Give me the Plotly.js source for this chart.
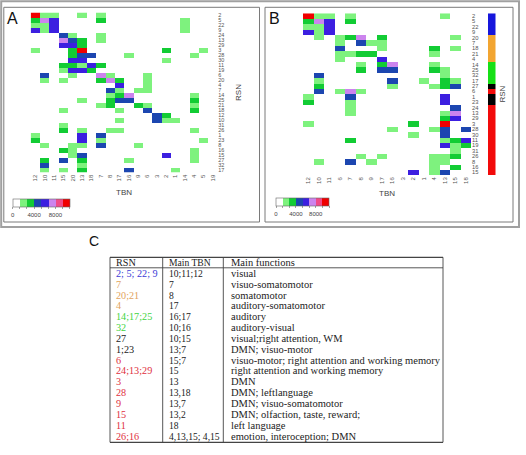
<!DOCTYPE html>
<html>
<head>
<meta charset="utf-8">
<script src="https://cdn.plot.ly/plotly-3.0.1.min.js"></script>
<style>
  html, body { margin: 0; padding: 0; background: #ffffff; }
  #chart { width: 526px; height: 455px; }
</style>
</head>
<body>
<div id="chart"></div>
<script>
// ---- Panel A: RSN x TBN co-occurrence counts ----
const tbnA = ['12','10','11','15','20','13','18','7','8','17','16','9','6','3','2','1','14','4','5','19'];
const rsnA = ['2','5','22','9','24','13','29','3','28','30','11','19','6','20','4','7','14','25','21','18','12','10','31','26','1','23','8','16','15','27','32','17'];
const countsA = [
  [10000,2000,2000,0,0,2000,0,2000,0,0,0,0,0,0,0,0,0,0,0,0],
  [3400,7300,6000,0,0,0,0,3400,0,0,0,0,0,0,0,0,2000,0,0,0],
  [2000,2000,6000,0,0,0,0,0,0,0,0,0,0,0,0,0,2000,0,0,0],
  [6000,2000,6000,0,0,0,0,0,0,0,0,0,0,0,0,0,2000,0,0,0],
  [0,0,0,4700,2000,0,0,2000,0,0,0,0,0,0,0,0,0,0,0,0],
  [0,0,0,7300,4700,3400,0,2000,0,0,0,0,0,0,0,0,0,0,0,0],
  [0,0,0,6000,6000,3400,0,0,0,0,0,0,0,0,0,0,0,0,0,0],
  [2000,0,0,0,3400,10000,0,0,0,0,0,0,0,0,3400,0,0,0,2000,0],
  [0,0,0,0,3400,4700,4700,0,0,0,2000,0,0,0,0,0,0,2000,0,0],
  [0,0,0,0,6000,6000,0,0,0,0,0,0,0,0,2000,0,0,0,0,0],
  [0,0,0,3400,3400,2000,6000,3400,0,0,0,0,0,0,0,0,0,0,0,0],
  [0,0,0,2000,6000,6000,3400,0,0,0,0,0,0,0,0,0,0,0,0,0],
  [0,4700,0,0,2000,0,0,7300,2000,0,0,0,2000,0,0,0,0,0,0,0],
  [0,2000,0,2000,0,0,0,3400,7300,3400,0,0,2000,0,0,0,0,0,0,0],
  [0,0,0,0,0,0,0,0,0,6000,0,0,2000,0,0,0,0,0,0,0],
  [0,0,0,0,0,0,0,0,4700,2000,0,2000,2000,0,0,0,0,0,0,0],
  [0,0,0,0,0,0,0,0,2000,3400,7300,0,0,0,0,0,0,2000,0,0],
  [0,0,0,0,0,2000,0,0,3400,4700,4700,0,0,0,0,0,0,3400,0,0],
  [0,0,0,0,0,0,0,2000,3400,0,0,3400,2000,0,0,0,0,2000,0,0],
  [0,0,0,2000,0,0,0,0,0,2000,0,0,4700,0,0,0,0,3400,0,0],
  [0,0,0,0,0,0,0,0,0,0,0,0,0,4700,3400,0,0,0,0,0],
  [0,0,0,0,0,0,0,0,0,2000,0,0,0,4700,2000,2000,0,0,0,0],
  [0,0,0,2000,0,0,0,0,0,0,0,0,0,0,0,0,0,0,0,0],
  [0,0,0,3400,0,2000,0,0,2000,2000,0,0,0,0,0,0,0,2000,0,0],
  [2000,0,0,0,0,6000,0,4700,0,0,0,0,0,0,0,0,0,0,0,0],
  [3400,0,0,0,0,6000,0,2000,0,0,0,0,0,0,0,0,0,0,2000,0],
  [0,2000,0,0,2000,2000,0,4700,0,0,0,2000,0,0,0,0,0,0,0,0],
  [0,0,0,3400,2000,0,0,0,0,0,0,0,0,0,0,0,0,2000,0,0],
  [0,0,0,0,2000,4700,0,0,0,0,0,0,0,0,6000,0,0,2000,0,0],
  [0,3400,0,4700,0,3400,0,0,0,0,2000,0,0,0,0,0,0,2000,0,0],
  [0,4700,0,0,0,2000,0,0,0,0,0,0,0,0,0,0,0,0,0,0],
  [0,2000,0,2000,0,3400,0,0,0,0,4700,0,0,0,0,2000,0,0,0,0]
];

// ---- Panel B: RSNs regrouped by function ----
const tbnB = ['12','10','11','6','7','8','9','17','16','3','2','1','4','13','15','18'];
const rsnB = ['2','5','22','9','20','7','18','21','4','14','25','32','17','27','6','1','23','24','13','29','3','28','30','11','19','31','26','8','16','15'];
const countsB = [
  [10000,2000,2000,0,2000,0,0,0,0,0,0,0,0,2000,0,0],
  [3400,7300,6000,0,3400,0,0,0,0,0,0,0,0,0,0,0],
  [2000,2000,6000,0,0,0,0,0,0,0,0,0,0,0,0,0],
  [6000,2000,6000,0,0,0,0,0,0,0,0,0,0,0,0,0],
  [0,2000,0,2000,3400,7300,0,3400,0,0,0,0,0,0,2000,0],
  [0,0,0,2000,0,4700,2000,2000,0,0,0,0,0,0,0,0],
  [0,0,0,4700,0,0,0,2000,0,0,0,0,3400,0,2000,0],
  [0,0,0,2000,2000,3400,3400,0,0,0,0,0,2000,0,0,0],
  [0,0,0,2000,0,0,0,6000,0,0,0,0,0,0,0,0],
  [0,0,0,0,0,2000,0,3400,7300,0,0,0,2000,0,0,0],
  [0,0,0,0,0,3400,0,4700,4700,0,0,0,3400,2000,0,0],
  [0,4700,0,0,0,0,0,0,0,0,0,0,0,2000,0,0],
  [0,2000,0,0,0,0,0,0,4700,0,0,2000,0,3400,2000,0],
  [0,3400,0,0,0,0,0,0,2000,0,0,0,2000,3400,4700,0],
  [0,4700,0,2000,7300,2000,0,0,0,0,0,0,0,0,0,0],
  [2000,0,0,0,4700,0,0,0,0,0,0,0,0,6000,0,0],
  [3400,0,0,0,2000,0,0,0,0,0,0,0,0,6000,0,0],
  [0,0,0,0,2000,0,0,0,0,0,0,0,0,0,4700,0],
  [0,0,0,0,2000,0,0,0,0,0,0,0,0,2000,7300,0],
  [0,0,0,0,0,0,0,0,0,0,0,0,0,3400,6000,0],
  [2000,0,0,0,0,0,0,0,0,0,3400,0,0,10000,0,0],
  [0,0,0,0,0,0,0,0,2000,0,0,0,2000,4700,0,4700],
  [0,0,0,0,0,0,0,0,0,0,2000,0,0,4700,0,0],
  [0,0,0,0,3400,0,0,0,0,0,0,0,0,2000,3400,6000],
  [0,0,0,0,0,0,0,0,0,0,0,0,0,6000,2000,3400],
  [0,0,0,0,0,0,0,0,0,0,0,0,0,0,2000,0],
  [0,0,0,0,0,2000,0,2000,0,0,0,0,2000,2000,3400,0],
  [0,2000,0,0,4700,0,2000,0,0,0,0,0,2000,2000,0,0],
  [0,0,0,0,0,0,0,0,0,0,0,0,2000,0,3400,0],
  [0,0,0,0,0,0,0,0,0,0,6000,0,2000,4700,0,0]
];
// functional group of each RSN row in panel B (0 visual, 1 somatomotor, 2 auditory, 3 mixed, 4 DMN/attention)
const groupB = [0,0,0,0,1,1,1,1,1,2,2,2,2,3,4,3,3,4,4,4,4,4,4,4,4,4,4,4,4,4];
const groupColors = ['#1616dc','#f2a531','#16e016','#000000','#f20a0a'];

// ---- Panel C: summary table ----
const tableRsn = ['2; 5; 22; 9','7','20;21','4','14;17;25','32','27','1;23','6','24;13;29','3','28','9','15','11','26;16'];
const tableRsnGroup = [0,1,1,1,2,2,3,3,4,4,4,4,4,4,4,4];
const tableTbn = ['10;11;12','7','8','17','16;17','10;16','10;15','13;7','15;7','15','13','13,18','13,7','13,2','18','4,13,15; 4,15'];
const tableFunctions = ['visual','visuo-somatomotor','somatomotor','auditory-somatomotor','auditory','auditory-visual',
  'visual;right attention, WM','DMN; visuo-motor','visuo-motor; right attention and working memory',
  'right attention and working memory','DMN','DMN; leftlanguage','DMN; visuo-somatomotor',
  'DMN; olfaction, taste, reward;','left language','emotion, interoception; DMN'];
const tableTextColors = ['#3b3bd6','#e2a35c','#3fd43f','#222222','#e0303e'];
const tableHeader = ['RSN','Main TBN','Main functions'];

// ---- colour scale for counts: 8 equal bins ----
const countBinColors = ['#ffffff','#7ef27e','#12cc34','#1c46b0','#3c1fe0','#cc84ee','#f04a88','#f00000'];
const countMax = 32000 / 3;
const countScale = [];
countBinColors.forEach((c, i) => {
  countScale.push([i / 8, c]);
  countScale.push([(i + 1) / 8, c]);
});
const binEdges = [];
for (let i = 0; i <= 8; i++) binEdges.push(i * countMax / 8);
const binLabels = binEdges.map(v => (Math.round(v) % 4000 === 0 ? String(Math.round(v)) : ''));

const groupScale = [];
groupColors.forEach((c, i) => {
  groupScale.push([i / 5, c]);
  groupScale.push([(i + 1) / 5, c]);
});

// pixel -> paper helpers
const W = 526, H = 455;
const px = x => x / W;
const py = y => 1 - y / H;

const blankZero = m => m.map(r => r.map(v => (v === 0 ? null : v)));
const sans = 'Liberation Sans, Arial, sans-serif';
const serif = 'Liberation Serif, Times New Roman, serif';

function countBar(xLeft, yTop, lenPx) {
  return {
    orientation: 'h', x: px(xLeft), xanchor: 'left', y: py(yTop), yanchor: 'top',
    len: lenPx, lenmode: 'pixels', thickness: 8, xpad: 0, ypad: 0,
    outlinewidth: 0.6, outlinecolor: '#666',
    tickmode: 'array', tickvals: binEdges, ticktext: binLabels,
    ticks: 'outside', ticklen: 2.5, tickwidth: 0.6, tickcolor: '#666',
    tickfont: { family: sans, size: 6, color: '#444' }
  };
}

const traces = [
  {
    type: 'heatmap', x: tbnA, y: rsnA, z: blankZero(countsA),
    xaxis: 'x', yaxis: 'y', zmin: 0, zmax: countMax,
    colorscale: countScale, colorbar: countBar(12.7, 199, 57),
    hoverongaps: false
  },
  {
    type: 'heatmap', x: tbnB, y: rsnB, z: blankZero(countsB),
    xaxis: 'x2', yaxis: 'y2', zmin: 0, zmax: countMax,
    colorscale: countScale, colorbar: countBar(276, 198, 53),
    hoverongaps: false
  },
  {
    type: 'heatmap', x: [0], y: rsnB, z: groupB.map(g => [g]),
    xaxis: 'x3', yaxis: 'y2', zmin: 0, zmax: 4,
    colorscale: groupScale, showscale: false
  }
];

const tickFont = size => ({ family: sans, size: size, color: '#555' });
const titleFont = { family: sans, size: 8, color: '#444' };

const layout = {
  width: W, height: H,
  margin: { l: 0, r: 0, t: 0, b: 0 },
  paper_bgcolor: '#ffffff', plot_bgcolor: '#ffffff',
  showlegend: false,
  xaxis: {
    domain: [px(30.7), px(217.3)], anchor: 'y', type: 'category',
    tickmode: 'array', tickvals: tbnA, ticktext: tbnA, tickangle: -90,
    tickfont: tickFont(6), ticks: '', showgrid: false, zeroline: false, showline: false,
    title: { text: 'TBN', font: titleFont, standoff: 9 }
  },
  yaxis: {
    domain: [py(172.5), py(12.5)], anchor: 'x', type: 'category', autorange: 'reversed',
    side: 'right', tickmode: 'array', tickvals: rsnA, ticktext: rsnA,
    tickfont: tickFont(5.5), ticks: '', showgrid: false, zeroline: false, showline: false,
    title: { text: 'RSN', font: titleFont, standoff: 11 }
  },
  xaxis2: {
    domain: [px(303), px(471)], anchor: 'y2', type: 'category',
    tickmode: 'array', tickvals: tbnB, ticktext: tbnB, tickangle: -90,
    tickfont: tickFont(6), ticks: '', showgrid: false, zeroline: false, showline: false,
    title: { text: 'TBN', font: titleFont, standoff: 7 }
  },
  yaxis2: {
    domain: [py(175), py(13.3)], anchor: 'x2', type: 'category', autorange: 'reversed',
    side: 'right', tickmode: 'array', tickvals: rsnB, ticktext: rsnB,
    tickfont: tickFont(5.8), ticks: '', showgrid: false, zeroline: false, showline: false,
    title: { text: 'RSN', font: titleFont, standoff: 21 }
  },
  xaxis3: {
    domain: [px(488), px(495.5)], anchor: 'y2', range: [-0.5, 0.5],
    showticklabels: false, ticks: '', showgrid: false, zeroline: false, showline: false
  },
  shapes: [],
  annotations: []
};

// frames around the two heatmap panels
const rect = (x0, y0, x1, y1, color, w) => ({
  type: 'rect', xref: 'paper', yref: 'paper',
  x0: px(x0), x1: px(x1), y0: py(y1), y1: py(y0),
  line: { color: color, width: w }, fillcolor: 'rgba(0,0,0,0)', layer: 'above'
});
const hline = (x0, x1, y, w) => ({
  type: 'line', xref: 'paper', yref: 'paper', x0: px(x0), x1: px(x1), y0: py(y), y1: py(y),
  line: { color: '#444', width: w }
});
const vline = (x, y0, y1, w) => ({
  type: 'line', xref: 'paper', yref: 'paper', x0: px(x), x1: px(x), y0: py(y0), y1: py(y1),
  line: { color: '#444', width: w }
});

layout.shapes.push(rect(1.2, 1.2, 519, 227, '#a0a0a0', 2));
layout.shapes.push(rect(3.8, 7.3, 259.5, 222, '#7a7a7a', 1));
layout.shapes.push(rect(265, 7.3, 513, 222, '#7a7a7a', 1));

// panel letters
const letter = (t, x, y, s) => ({
  text: t, xref: 'paper', yref: 'paper', x: px(x), y: py(y),
  xanchor: 'left', yanchor: 'middle', showarrow: false,
  font: { family: sans, size: s, color: '#111' }
});
layout.annotations.push(letter('A', 5, 18.5, 16));
layout.annotations.push(letter('B', 267, 18.5, 16));
layout.annotations.push(letter('C', 87, 241, 14));

// summary table
const tblLeft = 110, tblRight = 443, colX = [110, 162.7, 223.3];
const tblTop = 257.3, headLine = 267.8, tblBottom = 442.3;
const rowY0 = 273.3, rowStep = 10.85;
layout.shapes.push(hline(tblLeft, tblRight, tblTop, 1.2));
layout.shapes.push(hline(tblLeft, tblRight, headLine, 0.9));
layout.shapes.push(hline(tblLeft, tblRight, tblBottom, 1.2));
[tblLeft, colX[1], colX[2], tblRight].forEach(x => layout.shapes.push(vline(x, tblTop, tblBottom, 0.9)));

const cell = (t, x, y, color, size) => ({
  text: t, xref: 'paper', yref: 'paper', x: px(x), y: py(y),
  xanchor: 'left', yanchor: 'middle', showarrow: false,
  font: { family: serif, size: size, color: color }
});
const colFont = [10.2, 9.6, 10.5];
const colPad = [3.5, 4.2, 5.5];
tableHeader.forEach((h, j) => layout.annotations.push(cell(h, colX[j] + colPad[j], 262.5, '#222', colFont[j])));
tableRsn.forEach((r, i) => {
  const y = rowY0 + i * rowStep;
  layout.annotations.push(cell(r, colX[0] + colPad[0], y, tableTextColors[tableRsnGroup[i]], colFont[0]));
  layout.annotations.push(cell(tableTbn[i], colX[1] + colPad[1], y, '#222', colFont[1]));
  layout.annotations.push(cell(tableFunctions[i], colX[2] + colPad[2], y, '#222', colFont[2]));
});

Plotly.newPlot('chart', traces, layout, { staticPlot: true, displayModeBar: false });
</script>
</body>
</html>
